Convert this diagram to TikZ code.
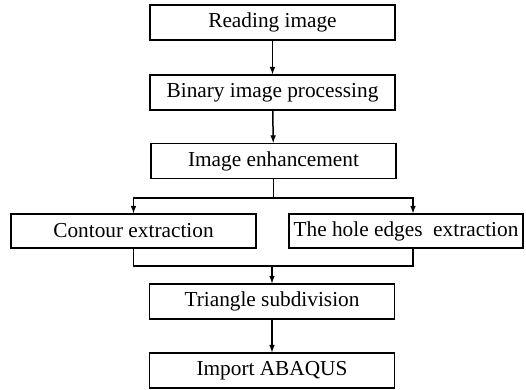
\documentclass[tikz,border=0pt]{standalone}
\usepackage{fontspec}
\setmainfont{Liberation Serif}
\begin{document}
\begin{tikzpicture}[x=1pt,y=-1pt,>=latex,
   stepbox/.style={draw,line width=1.5pt,minimum width=245pt,minimum height=35pt,
      inner sep=0pt,font=\fontsize{21.3}{24}\selectfont},
   link/.style={line width=1.5pt}]
   \useasboundingbox (0,0) rectangle (526,389);
   %boxes
   \node[stepbox] (read) at (272.5,22.5) {Reading image};
   \node[stepbox] (binary) at (272.5,92.5) {Binary image processing};
   \node[stepbox] (enhance) at (273.5,161) {Image enhancement};
   \node[stepbox,minimum height=34pt] (contour) at (133.5,231) {Contour extraction};
   \node[stepbox,minimum height=34pt,minimum width=234pt] (hole) at (406,231) {The hole edges\ \ extraction};
   \node[stepbox] (triangle) at (272,301.5) {Triangle subdivision};
   \node[stepbox] (abaqus) at (272,370.5) {Import ABAQUS};
   %split and merge points
   \coordinate (split) at (273.5,198);
   \coordinate (merge) at (272,266);
   %arrows
   \draw[link,->] (read) -- (binary);
   \draw[link,->] (binary) -- (enhance);
   \draw[link] (enhance) -- (split);
   \draw[link,->] (split) -| (contour.north);
   \draw[link,->] (split) -| ([xshift=7pt]hole.north);
   \draw[link] (contour.south) |- (merge);
   \draw[link] ([xshift=7pt]hole.south) |- (merge);
   \draw[link,->] (merge) -- (triangle);
   \draw[link,->] (triangle) -- (abaqus);
\end{tikzpicture}
\end{document}
